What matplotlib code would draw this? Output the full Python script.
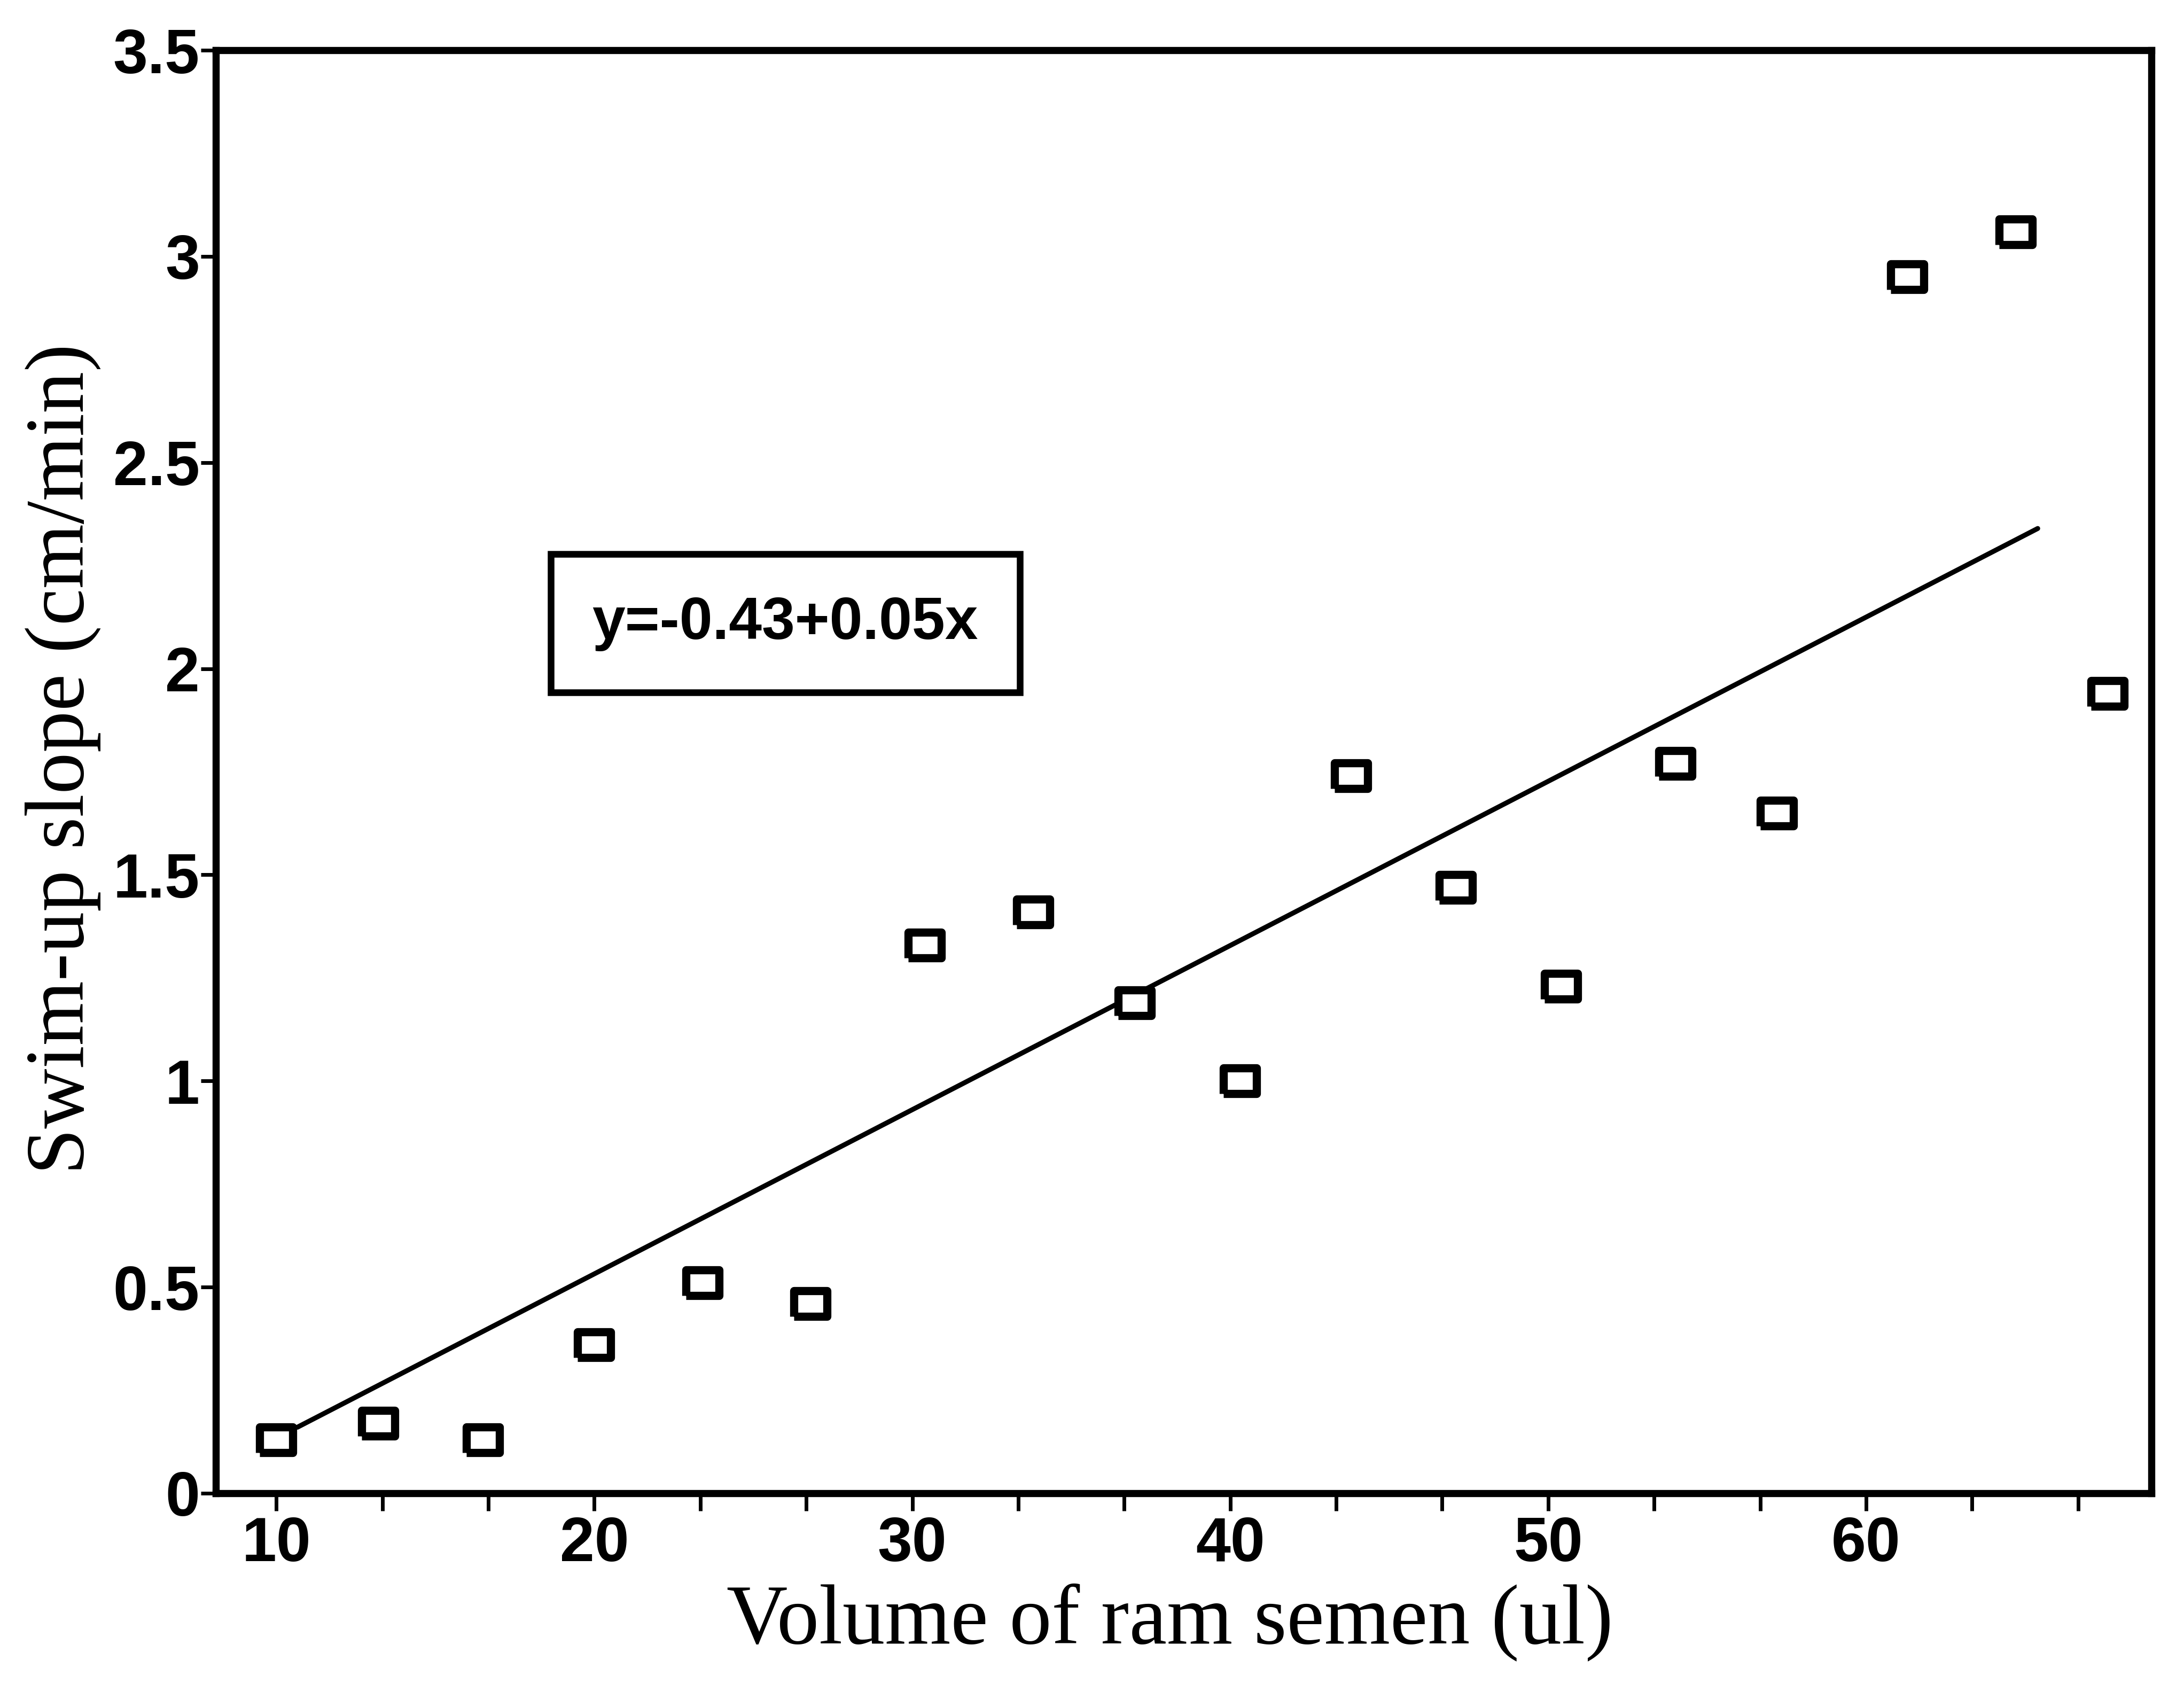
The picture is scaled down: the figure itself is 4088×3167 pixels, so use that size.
import numpy as np
import matplotlib
matplotlib.use("Agg")
import matplotlib.pyplot as plt
from matplotlib.ticker import MultipleLocator, FixedLocator, FormatStrFormatter

# volume of ram semen (ul) vs swim-up slope (cm/min)
volume = [10.0, 13.2, 16.5, 20.0, 23.4, 26.8, 30.4, 33.8, 37.0,
          40.3, 43.8, 47.1, 50.4, 54.0, 57.2, 61.3, 64.7, 67.6]
slope = [0.13, 0.17, 0.13, 0.36, 0.51, 0.46, 1.33, 1.41, 1.19,
         1.00, 1.74, 1.47, 1.23, 1.77, 1.65, 2.95, 3.06, 1.94]

# regression line as drawn in the figure
fit_x = [10.66, 65.4]
fit_y = [0.16, 2.34]
equation = "y=-0.43+0.05x"

x_major = [10, 20, 30, 40, 50, 60]
y_major = [0, 0.5, 1, 1.5, 2, 2.5, 3, 3.5]

sans = ["Liberation Sans", "DejaVu Sans"]
serif = ["Liberation Serif", "DejaVu Serif"]

fig = plt.figure(figsize=(20.44, 15.835), dpi=200)
ax = fig.add_axes([0.0989, 0.1175, 0.8861, 0.8528])

# wide open rectangle marker
rect = [(-1.25, -1), (1.25, -1), (1.25, 1), (-1.25, 1), (-1.25, -1)]
ax.plot(volume, slope, linestyle="none", marker=rect, markersize=22,
        markerfacecolor="white", markeredgecolor="black", markeredgewidth=5.5, zorder=3)
ax.plot(fit_x, fit_y, color="black", linewidth=3.3, solid_capstyle="round", zorder=2)

ax.text(26.0, 2.11, equation, fontsize=40, family=sans, weight="bold", ha="center", va="center",
        bbox=dict(boxstyle="square,pad=0.7", facecolor="white", edgecolor="black", linewidth=4.5))

ax.set_xlim(8.1, 68.97)
ax.set_ylim(0, 3.5)

ax.xaxis.set_major_locator(FixedLocator(x_major))
ax.xaxis.set_minor_locator(MultipleLocator(10 / 3))
ax.yaxis.set_major_locator(FixedLocator(y_major))
ax.yaxis.set_major_formatter(FormatStrFormatter("%g"))

for s in ax.spines.values():
    s.set_linewidth(4.8)

ax.tick_params(axis="both", which="both", direction="out", width=2.5, color="black")
ax.tick_params(axis="x", which="both", length=12, pad=3)
ax.tick_params(axis="y", which="major", length=10, pad=1)
for lab in ax.get_xticklabels() + ax.get_yticklabels():
    lab.set_fontsize(42)
    lab.set_family(sans)
    lab.set_weight("bold")

ax.set_xlabel("Volume of ram semen (ul)", fontsize=57, family=serif, va="center")
ax.set_ylabel("Swim-up slope (cm/min)", fontsize=56, family=serif, va="center")
ax.xaxis.set_label_coords(0.493, -0.0896)
ax.yaxis.set_label_coords(-0.079, 0.509)

fig.savefig("out.png", dpi=200, facecolor="white")
